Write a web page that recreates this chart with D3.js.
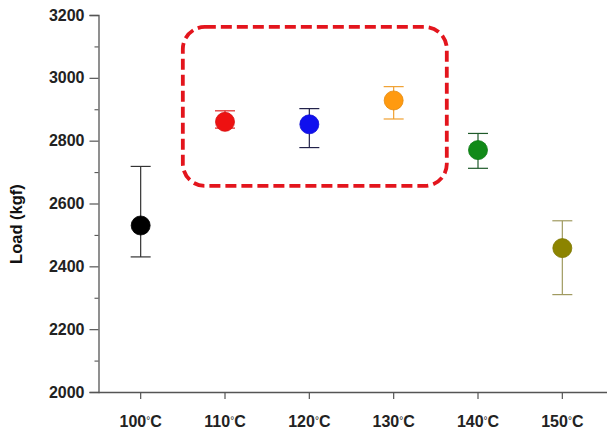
<!DOCTYPE html>
<html>
<head>
<meta charset="utf-8">
<script src="https://cdn.jsdelivr.net/npm/d3@7"></script>
<style>
  html, body { margin: 0; padding: 0; background: #fff; }
  svg { display: block; font-family: "Liberation Sans", Arial, sans-serif; }
</style>
</head>
<body>
<svg id="chart" width="607" height="434"></svg>
<script>
// ---- data ----
const categories = ["100°C", "110°C", "120°C", "130°C", "140°C", "150°C"];
const loadMean  = [2530, 2860, 2852, 2928, 2770, 2458];
const loadUpper = [2718, 2895, 2902, 2972, 2823, 2545];
const loadLower = [2430, 2840, 2778, 2869, 2712, 2310];
const fillColors = ["#000000", "#ee1111", "#1010ee", "#ff9a10", "#118a18", "#8c8400"];
const barColors  = ["#333333", "#dd2222", "#22224a", "#f0a030", "#1f5a2a", "#a09a60"];
const yTicks = [2000, 2200, 2400, 2600, 2800, 3000, 3200];
const yMinorTicks = [2100, 2300, 2500, 2700, 2900, 3100];
const yLabel = "Load (kgf)";
// highlighted region: from 110°C to 130°C, load range
const highlightCats = ["110°C", "130°C"];
const highlightLoad = [2656, 3162];

// ---- layout ----
const svg = d3.select("#chart");
const mLeft = 98.5, mRight = 604.5, mTop = 15, mBottom = 392;

const x = d3.scaleBand().domain(categories).range([mLeft, mRight]).padding(0);
const y = d3.scaleLinear().domain([2000, 3200]).range([mBottom, mTop]);
const cx = c => x(c) + x.bandwidth() / 2;

const axisColor = "#555";

// y axis
const yAxis = svg.append("g").attr("transform", `translate(${mLeft},0)`)
  .call(d3.axisLeft(y).tickValues(yTicks).tickSize(9).tickPadding(5).tickFormat(d3.format("d")));
yAxis.select(".domain").attr("stroke", axisColor).attr("stroke-width", 1.3);
yAxis.selectAll(".tick line").attr("stroke", axisColor).attr("stroke-width", 1.2);
yAxis.selectAll(".tick text").attr("font-size", 16).attr("font-weight", "bold").attr("fill", "#222");

const yMinor = svg.append("g").attr("transform", `translate(${mLeft},0)`)
  .call(d3.axisLeft(y).tickValues(yMinorTicks).tickSize(4).tickFormat(""));
yMinor.select(".domain").remove();
yMinor.selectAll(".tick line").attr("stroke", axisColor).attr("stroke-width", 1.1);

// x axis
const xAxis = svg.append("g").attr("transform", `translate(0,${mBottom})`)
  .call(d3.axisBottom(x).tickSize(7).tickSizeOuter(0).tickPadding(17));
xAxis.select(".domain").attr("stroke", axisColor).attr("stroke-width", 1.3)
  .attr("d", `M${mLeft},0.5H${607}`);
xAxis.selectAll(".tick line").attr("stroke", axisColor).attr("stroke-width", 1.2);
xAxis.selectAll(".tick text").attr("font-size", 16).attr("font-weight", "bold").attr("fill", "#222")
  .each(function(d) {
    const t = d3.select(this).text("");
    const parts = d.split("°");
    t.append("tspan").text(parts[0]);
    t.append("tspan").attr("font-size", 10).attr("dy", -3).attr("font-weight", "normal").text("°");
    t.append("tspan").attr("dy", 3).text(parts[1]);
  });

// y label
svg.append("text")
  .attr("transform", `translate(22,224) rotate(-90)`)
  .attr("text-anchor", "middle")
  .attr("font-size", 16.5).attr("font-weight", "bold").attr("fill", "#111")
  .text(yLabel);

// highlight box
const hx0 = cx(highlightCats[0]) - x.step() * 0.5;
const hx1 = cx(highlightCats[1]) + x.step() * 0.63;
svg.append("rect")
  .attr("x", hx0).attr("y", y(highlightLoad[1]))
  .attr("width", hx1 - hx0).attr("height", y(highlightLoad[0]) - y(highlightLoad[1]))
  .attr("rx", 22).attr("ry", 22)
  .attr("fill", "none").attr("stroke", "#e3151d").attr("stroke-width", 3.8)
  .attr("stroke-dasharray", "11,5");

// error bars and points
const data = categories.map((c, i) => ({c, m: loadMean[i], hi: loadUpper[i], lo: loadLower[i], f: fillColors[i], b: barColors[i]}));
const g = svg.append("g");
const cap = 10;
data.forEach(d => {
  const px = cx(d.c);
  g.append("line").attr("x1", px).attr("x2", px).attr("y1", y(d.hi)).attr("y2", y(d.lo))
    .attr("stroke", d.b).attr("stroke-width", 1.2);
  [d.hi, d.lo].forEach(v => {
    g.append("line").attr("x1", px - cap).attr("x2", px + cap).attr("y1", y(v)).attr("y2", y(v))
      .attr("stroke", d.b).attr("stroke-width", 1.2);
  });
  g.append("circle").attr("cx", px).attr("cy", y(d.m)).attr("r", 9.5)
    .attr("fill", d.f).attr("stroke", d3.color(d.f).darker(0.3)).attr("stroke-width", 0.8);
});
</script>
</body>
</html>
